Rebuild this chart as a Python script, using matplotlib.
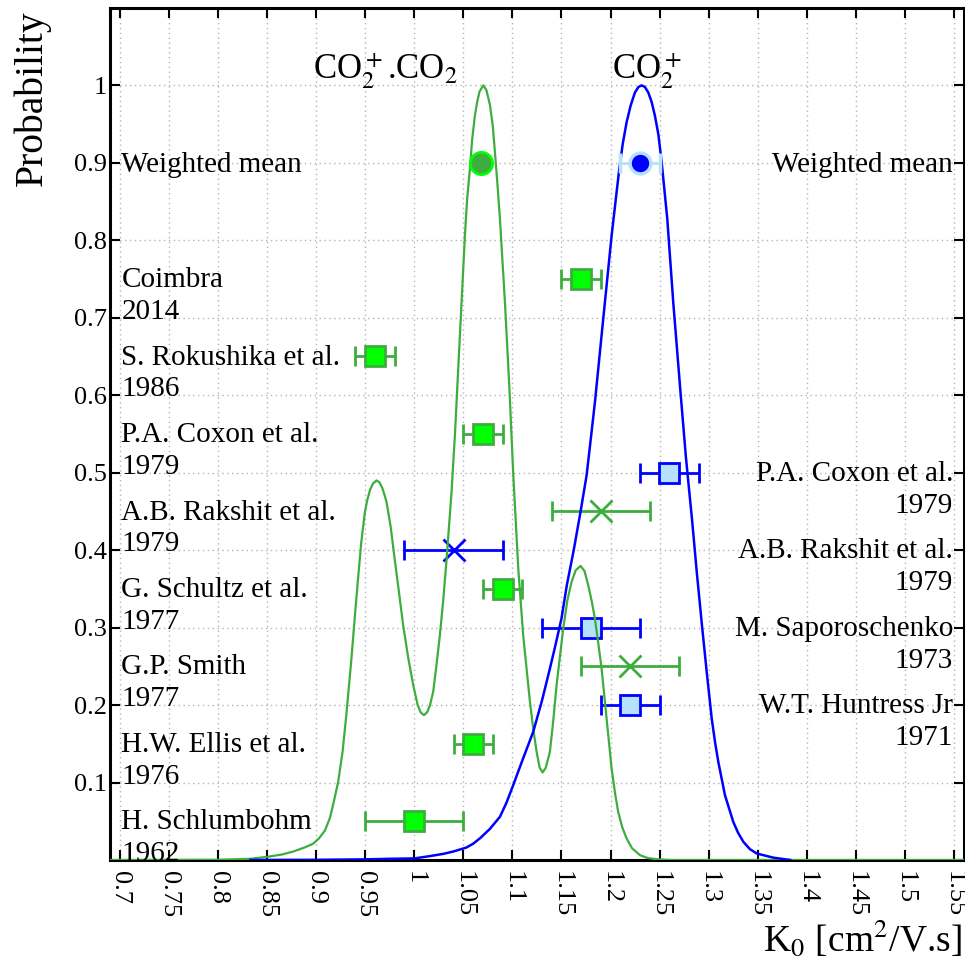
#!/usr/bin/env python3
"""Reduced mobility K0 of CO2+ and CO2+.CO2 ions: literature values and probability curves."""
import matplotlib
matplotlib.use('Agg')
import matplotlib.pyplot as plt

# Palette
VERDE = '#3DAE3D'
LIMA = '#00FF00'
AZUL = '#0000FF'
AZUL_CLARO = '#B5E2FA'
GRELHA = '#B4B4B4'

plt.rcParams.update({
    'font.family': ['Liberation Serif', 'DejaVu Serif'],
    'mathtext.fontset': 'stix',
    'axes.linewidth': 2.2,
})

# Probability curves (K0, normalised probability)
verde_x = [0.69, 0.80, 0.833, 0.85, 0.865, 0.877, 0.888, 0.897, 0.903, 0.909,
           0.914, 0.918, 0.9225, 0.927, 0.931, 0.936, 0.9395, 0.943, 0.946,
           0.9497, 0.952, 0.955, 0.958, 0.9616, 0.9645, 0.9675, 0.970, 0.9718,
           0.976, 0.980, 0.9845, 0.9887, 0.994, 0.999, 1.0035, 1.0065, 1.0098,
           1.013, 1.016, 1.0193, 1.0225, 1.0261, 1.0295, 1.033, 1.0355, 1.038,
           1.0415, 1.0448, 1.0482, 1.0516, 1.054, 1.0567, 1.059, 1.0618, 1.064,
           1.0665, 1.0703, 1.0735, 1.0771, 1.080, 1.0822, 1.0848, 1.0873, 1.0924,
           1.0968, 1.1008, 1.106, 1.111, 1.1179, 1.1215, 1.1247, 1.1278, 1.1308,
           1.134, 1.1382, 1.1415, 1.145, 1.1518, 1.156, 1.1603, 1.1645, 1.1695,
           1.1735, 1.1773, 1.181, 1.1841, 1.1875, 1.1909, 1.196, 1.2011, 1.2045,
           1.2078, 1.212, 1.2164, 1.222, 1.230, 1.238, 1.247, 1.26, 1.56]
verde_y = [0.0, 0.0003, 0.0015, 0.004, 0.007, 0.011, 0.016, 0.021, 0.028, 0.038,
           0.054, 0.075, 0.101, 0.14, 0.19, 0.26, 0.315, 0.367, 0.41,
           0.449, 0.464, 0.478, 0.486, 0.490, 0.4876, 0.480, 0.470, 0.462,
           0.43, 0.389, 0.345, 0.303, 0.26, 0.2255, 0.200, 0.1906, 0.187,
           0.1904, 0.1997, 0.217, 0.25, 0.290, 0.335, 0.389, 0.432, 0.475,
           0.55, 0.634, 0.720, 0.806, 0.855, 0.892, 0.93, 0.961, 0.978,
           0.992, 1.0, 0.994, 0.975, 0.948, 0.914, 0.872, 0.828, 0.720,
           0.613, 0.50, 0.376, 0.29, 0.204, 0.167, 0.1396, 0.119, 0.113,
           0.119, 0.1396, 0.178, 0.2255, 0.2987, 0.335, 0.359, 0.374, 0.3796,
           0.373, 0.3546, 0.333, 0.3116, 0.28, 0.247, 0.1826, 0.118, 0.087,
           0.062, 0.042, 0.0277, 0.015, 0.0062, 0.0025, 0.001, 0.0, 0.0]

azul_x = [0.833, 0.90, 0.95, 0.975, 1.0, 1.016, 1.03, 1.04, 1.053, 1.06, 1.067,
          1.077, 1.0873, 1.094, 1.1008, 1.11, 1.1212, 1.13, 1.1382, 1.144, 1.150,
          1.1555, 1.1625, 1.1695, 1.1756, 1.180, 1.1841, 1.1926, 1.2011, 1.2089,
          1.2125, 1.2164, 1.2205, 1.2249, 1.2285, 1.2317, 1.235, 1.2384, 1.2418,
          1.2452, 1.2487, 1.2521, 1.2578, 1.2639, 1.2707, 1.2768, 1.283, 1.288,
          1.293, 1.298, 1.3031, 1.3065, 1.3098, 1.3166, 1.3251, 1.330, 1.3353,
          1.342, 1.3489, 1.3658, 1.383]
azul_y = [0.0, 0.0002, 0.0008, 0.0015, 0.002, 0.005, 0.008, 0.011, 0.016, 0.021, 0.028,
          0.04, 0.0557, 0.074, 0.0965, 0.128, 0.1654, 0.205, 0.247, 0.278, 0.3116,
          0.355, 0.40, 0.45, 0.4965, 0.545, 0.591, 0.699, 0.806, 0.892,
          0.925, 0.9525, 0.974, 0.991, 0.998, 1.0, 0.998, 0.991, 0.979,
          0.961, 0.937, 0.901, 0.828, 0.720, 0.613, 0.52, 0.44, 0.37,
          0.305, 0.2428, 0.1826, 0.152, 0.1267, 0.0836, 0.049, 0.035, 0.0235,
          0.014, 0.0084, 0.003, 0.0]

# CO2+.CO2 measurements (squares) and rejected ones (crosses)
quad_verde_x = [1.17, 0.96, 1.07, 1.09, 1.06, 1.00]
quad_verde_y = [0.75, 0.65, 0.55, 0.35, 0.15, 0.05]
quad_verde_err = [0.02, 0.02, 0.02, 0.02, 0.02, 0.05]
cruz_verde_x = [1.19, 1.22]
cruz_verde_y = [0.45, 0.25]
cruz_verde_err = [0.05, 0.05]

# CO2+ measurements
quad_azul_x = [1.26, 1.18, 1.22]
quad_azul_y = [0.50, 0.30, 0.20]
quad_azul_err = [0.03, 0.05, 0.03]
cruz_azul_x = [1.04]
cruz_azul_y = [0.40]
cruz_azul_err = [0.05]

# Weighted means
media_y = 0.9
media_verde = 1.068
media_verde_err = 0.004
media_azul = 1.230
media_azul_err = 0.02

# Reference labels
esq_nomes = ['Coimbra', 'S. Rokushika et al.', 'P.A. Coxon et al.', 'A.B. Rakshit et al.',
             'G. Schultz et al.', 'G.P. Smith', 'H.W. Ellis et al.', 'H. Schlumbohm']
esq_anos = ['2014', '1986', '1979', '1979', '1977', '1977', '1976', '1962']
esq_y = [0.75, 0.65, 0.55, 0.45, 0.35, 0.25, 0.15, 0.05]
dir_nomes = ['P.A. Coxon et al.', 'A.B. Rakshit et al.', 'M. Saporoschenko', 'W.T. Huntress Jr']
dir_anos = ['1979', '1979', '1973', '1971']
dir_y = [0.50, 0.40, 0.30, 0.20]

xticks = [0.7, 0.75, 0.8, 0.85, 0.9, 0.95, 1.0, 1.05, 1.1, 1.15, 1.2, 1.25,
          1.3, 1.35, 1.4, 1.45, 1.5, 1.55]
xtick_labels = ['0.7', '0.75', '0.8', '0.85', '0.9', '0.95', '1', '1.05', '1.1', '1.15',
                '1.2', '1.25', '1.3', '1.35', '1.4', '1.45', '1.5', '1.55']
yticks = [0.1, 0.2, 0.3, 0.4, 0.5, 0.6, 0.7, 0.8, 0.9, 1.0]
ytick_labels = ['0.1', '0.2', '0.3', '0.4', '0.5', '0.6', '0.7', '0.8', '0.9', '1']

fig = plt.figure(figsize=(9.65, 9.68), dpi=100)
ax = fig.add_axes([0.114, 0.1116, 0.8848, 0.8802])

ax.set_xlim(0.69, 1.56)
ax.set_ylim(0, 1.1)
ax.set_xticks(xticks)
ax.set_xticklabels(xtick_labels, rotation=270)
ax.set_yticks(yticks)
ax.set_yticklabels(ytick_labels)
ax.tick_params(direction='in', length=7, width=1.5, top=True, right=True, labelsize=19)
ax.tick_params(axis='x', pad=8)
ax.tick_params(axis='y', pad=2.4)
ax.grid(True, linestyle=(0, (1, 2.5)), color=GRELHA, linewidth=1.0, zorder=0)
ax.set_axisbelow(True)

# error bars
eb = dict(fmt='s', ms=15, mew=2, capsize=7.5, elinewidth=2, capthick=2, zorder=2)
ax.errorbar(quad_verde_x, quad_verde_y, xerr=quad_verde_err, mfc=LIMA, mec=VERDE,
            ecolor=VERDE, **eb)
ax.errorbar(quad_azul_x, quad_azul_y, xerr=quad_azul_err, mfc=AZUL_CLARO, mec=AZUL,
            ecolor=AZUL, **eb)
ex = dict(fmt='x', ms=16, mew=2, capsize=7.5, elinewidth=2, capthick=2, zorder=2)
ax.errorbar(cruz_verde_x, cruz_verde_y, xerr=cruz_verde_err, color=VERDE, **ex)
ax.errorbar(cruz_azul_x, cruz_azul_y, xerr=cruz_azul_err, color=AZUL, **ex)

# curves
ax.plot(verde_x, verde_y, color=VERDE, lw=1.6, zorder=3, solid_joinstyle='round')
ax.plot(azul_x, azul_y, color=AZUL, lw=1.8, zorder=3, solid_joinstyle='round')

# weighted means
ax.errorbar([media_verde], [media_y], xerr=[media_verde_err], fmt='o', ms=16,
            mfc=VERDE, mec=LIMA, mew=2, ecolor=VERDE, capsize=0, zorder=4)
ax.errorbar([media_azul], [media_y], xerr=[media_azul_err], fmt='o', ms=15,
            mfc=AZUL, mec=AZUL_CLARO, mew=2.5, ecolor=AZUL_CLARO, capsize=7.5,
            elinewidth=2, capthick=2, zorder=4)

FS = 21
ax.text(0.7015, media_y - 0.0115, 'Weighted mean', fontsize=FS, ha='left', va='baseline')
ax.text(1.549, media_y - 0.0115, 'Weighted mean', fontsize=FS, ha='right', va='baseline')
for nome, ano, y in zip(esq_nomes, esq_anos, esq_y):
    ax.text(0.7015, y - 0.0105, nome, fontsize=FS, ha='left', va='baseline')
    ax.text(0.7015, y - 0.0516, ano, fontsize=FS, ha='left', va='baseline')
for nome, ano, y in zip(dir_nomes, dir_anos, dir_y):
    ax.text(1.549, y - 0.0105, nome, fontsize=FS, ha='right', va='baseline')
    ax.text(1.549, y - 0.0516, ano, fontsize=FS, ha='right', va='baseline')

# ion species
ax.text(0.971, 1.008, r'CO$_2^+$.CO$_2$', fontsize=25, ha='center', va='baseline')
ax.text(1.2366, 1.008, r'CO$_2^+$', fontsize=25, ha='center', va='baseline')

fig.text(0.0337, 0.9897, 'Probability', fontsize=28.5, rotation=90, ha='center', va='top')
fig.text(0.9969, 0.0176, r'K$_{0}$ [cm$^{2}$/V.s]', fontsize=27, ha='right', va='baseline')

fig.savefig('out.png', dpi=100, facecolor='white')
plt.close()
